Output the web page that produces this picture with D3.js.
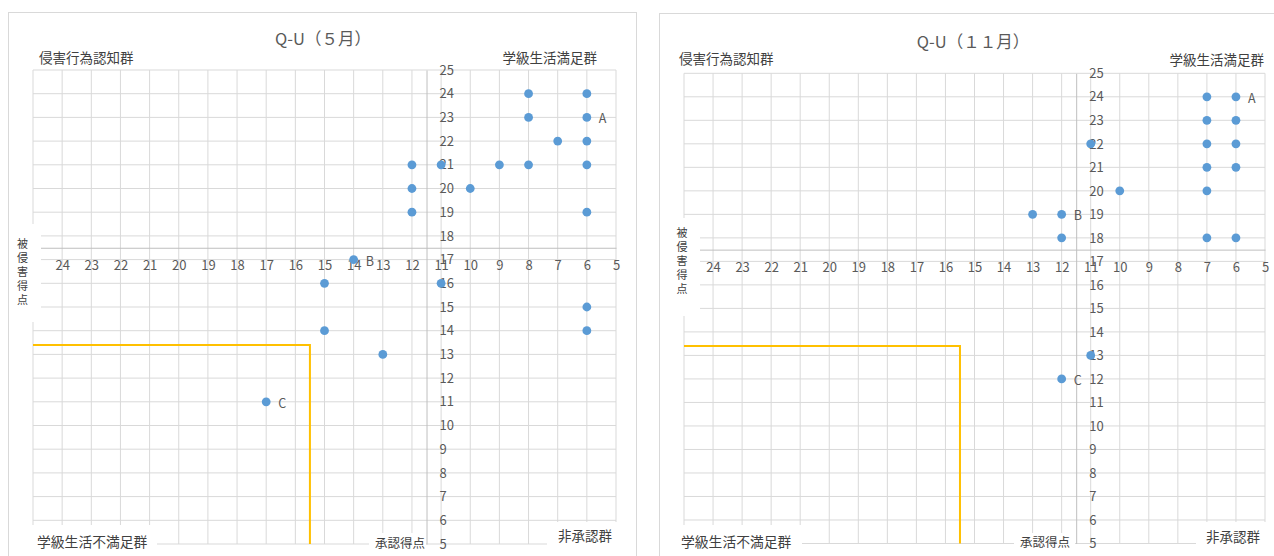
<!DOCTYPE html>
<html lang="ja">
<head>
<meta charset="utf-8">
<title>Q-U</title>
<script src="https://cdn.jsdelivr.net/npm/d3@7/dist/d3.min.js"></script>
<style>
  html, body { margin: 0; padding: 0; background: #ffffff; }
  svg { display: block; }
  text { font-family: "Noto Sans CJK JP", "Noto Sans", sans-serif; }
</style>
</head>
<body>
<svg id="chart" width="1274" height="556"></svg>
<script>
// ---- data -------------------------------------------------------------
// 承認得点 (x) / 被侵害得点 (y) for each student, May survey
const mayApproval = [8, 6, 8, 6, 7, 6, 12, 11, 9, 8, 6, 12, 10, 12, 6, 14, 15, 11, 6, 15, 6, 13, 17];
const mayVictim   = [24, 24, 23, 23, 22, 22, 21, 21, 21, 21, 21, 20, 20, 19, 19, 17, 16, 16, 15, 14, 14, 13, 11];
const mayTags     = ["", "", "", "A", "", "", "", "", "", "", "", "", "", "", "", "B", "", "", "", "", "", "", "C"];

// November survey
const novApproval = [7, 6, 7, 6, 11, 7, 6, 7, 6, 10, 7, 13, 12, 12, 7, 6, 11, 12];
const novVictim   = [24, 24, 23, 23, 22, 22, 22, 21, 21, 20, 20, 19, 19, 18, 18, 18, 13, 12];
const novTags     = ["", "A", "", "", "", "", "", "", "", "", "", "", "B", "", "", "", "", "C"];

// axis ticks and grid
const xTickValues = [24, 23, 22, 21, 20, 19, 18, 17, 16, 15, 14, 13, 12, 11, 10, 9, 8, 7, 6, 5];
const yTickValues = [5, 6, 7, 8, 9, 10, 11, 12, 13, 14, 15, 16, 17, 18, 19, 20, 21, 22, 23, 24, 25];
const xGridValues = [25, 24, 23, 22, 21, 20, 19, 18, 17, 16, 15, 14, 13, 12, 11, 10, 9, 8, 7, 6, 5];
const yGridValues = [5, 6, 7, 8, 9, 10, 11, 12, 13, 14, 15, 16, 17, 18, 19, 20, 21, 22, 23, 24, 25];
const xDomain = [25, 5];
const yDomain = [5, 25];

// where the two axes cross (quadrant boundaries)
const axisCrossX = 11.5;
const axisCrossY = 17.5;

// 要支援群 boundary (承認得点 15.5 / 被侵害得点 13.4)
const boundaryX = [25, 15.5, 15.5];
const boundaryY = [13.4, 13.4, 5];

// ---- layout -----------------------------------------------------------
const charts = [
  {
    title: "Q-U（５月）",
    approval: mayApproval, victim: mayVictim, tags: mayTags,
    panel: { x: 8.5, y: 12.5, w: 628, h: 600 },
    plot: { left: 33, right: 616, top: 70, bottom: 544 },
    titlePos: { x: 323, y: 45 },
    corners: [
      { text: "侵害行為認知群", x: 39, y: 58, anchor: "start", size: 13.5 },
      { text: "学級生活満足群", x: 597, y: 58, anchor: "end", size: 13.5 },
      { text: "学級生活不満足群", x: 37, y: 542, anchor: "start", size: 13.8, box: [28, 525, 129, 40] },
      { text: "承認得点", x: 375, y: 543, anchor: "start", size: 12.5, box: [369, 533, 57, 30] },
      { text: "非承認群", x: 558, y: 536, anchor: "start", size: 13.5, box: [547, 522, 80, 40] }
    ],
    yTitle: { x: 22.5, top: 238, box: [9, 224, 32, 98] }
  },
  {
    title: "Q-U（１１月）",
    approval: novApproval, victim: novVictim, tags: novTags,
    panel: { x: 659.5, y: 13.5, w: 700, h: 600 },
    plot: { left: 684, right: 1265, top: 73.3, bottom: 543.5 },
    titlePos: { x: 973, y: 48 },
    corners: [
      { text: "侵害行為認知群", x: 679, y: 59, anchor: "start", size: 13.5 },
      { text: "学級生活満足群", x: 1264, y: 60, anchor: "end", size: 13.5 },
      { text: "学級生活不満足群", x: 681, y: 542, anchor: "start", size: 13.8, box: [678, 525, 124, 40] },
      { text: "承認得点", x: 1020, y: 542, anchor: "start", size: 12.5, box: [1014, 533, 61, 30] },
      { text: "非承認群", x: 1206, y: 537.5, anchor: "start", size: 13.5, box: [1196, 522, 80, 40] }
    ],
    yTitle: { x: 682, top: 227, box: [661, 218, 39, 98] }
  }
];

const svg = d3.select("#chart");
const textColor = "#595959";
const gridColor = "#d9d9d9";
const axisColor = "#bfbfbf";

charts.forEach(c => {
  const g = svg.append("g");

  // chart area border
  g.append("rect")
    .attr("x", c.panel.x).attr("y", c.panel.y)
    .attr("width", c.panel.w).attr("height", c.panel.h)
    .attr("fill", "#ffffff").attr("stroke", gridColor).attr("stroke-width", 1);

  const x = d3.scaleLinear().domain(xDomain).range([c.plot.left, c.plot.right]);
  const y = d3.scaleLinear().domain(yDomain).range([c.plot.bottom, c.plot.top]);

  // gridlines
  g.append("g").selectAll("line").data(xGridValues).join("line")
    .attr("x1", d => x(d)).attr("x2", d => x(d))
    .attr("y1", c.plot.top).attr("y2", c.plot.bottom)
    .attr("stroke", gridColor).attr("stroke-width", 1);
  g.append("g").selectAll("line").data(yGridValues).join("line")
    .attr("x1", c.plot.left).attr("x2", c.plot.right)
    .attr("y1", d => y(d)).attr("y2", d => y(d))
    .attr("stroke", gridColor).attr("stroke-width", 1);

  // horizontal axis (承認得点), crossing at the quadrant boundary
  const xAxis = d3.axisBottom(x).tickValues(xTickValues).tickSize(0).tickSizeOuter(0).tickPadding(13);
  const gx = g.append("g").attr("transform", `translate(0,${y(axisCrossY)})`).call(xAxis);
  gx.select(".domain").attr("stroke", axisColor);
  gx.selectAll("text").attr("fill", textColor).style("font-size", "13px")
    .style("font-family", "'Noto Sans CJK JP', sans-serif");

  // vertical axis (被侵害得点)
  const yAxis = d3.axisRight(y).tickValues(yTickValues).tickSize(0).tickSizeOuter(0).tickPadding(13);
  const gy = g.append("g").attr("transform", `translate(${x(axisCrossX)},0)`).call(yAxis);
  gy.select(".domain").attr("stroke", axisColor);
  gy.selectAll("text").attr("fill", textColor).style("font-size", "13px")
    .style("font-family", "'Noto Sans CJK JP', sans-serif");

  // white backgrounds of the text boxes
  c.corners.filter(k => k.box).forEach(k => {
    g.append("rect").attr("x", k.box[0]).attr("y", k.box[1])
      .attr("width", k.box[2]).attr("height", k.box[3]).attr("fill", "#ffffff");
  });
  g.append("rect").attr("x", c.yTitle.box[0]).attr("y", c.yTitle.box[1])
    .attr("width", c.yTitle.box[2]).attr("height", c.yTitle.box[3]).attr("fill", "#ffffff");

  // boundary line
  const boundary = d3.line().x(d => x(d[0])).y(d => y(d[1]));
  g.append("path")
    .datum(boundaryX.map((v, i) => [v, boundaryY[i]]))
    .attr("d", boundary)
    .attr("fill", "none").attr("stroke", "#FFC000").attr("stroke-width", 2);

  // students
  const pts = c.approval.map((v, i) => ({ a: v, v: c.victim[i], tag: c.tags[i] }));
  g.append("g").selectAll("circle").data(pts).join("circle")
    .attr("cx", d => x(d.a)).attr("cy", d => y(d.v)).attr("r", 4.4)
    .attr("fill", "#5B9BD5");
  g.append("g").selectAll("text").data(pts.filter(d => d.tag)).join("text")
    .attr("x", d => x(d.a) + 12).attr("y", d => y(d.v) + 6)
    .attr("fill", textColor).style("font-size", "12.5px")
    .text(d => d.tag);

  // title
  g.append("text").attr("x", c.titlePos.x).attr("y", c.titlePos.y)
    .attr("text-anchor", "middle").attr("fill", textColor)
    .style("font-size", "16.5px").text(c.title);

  // quadrant labels
  c.corners.forEach(k => {
    g.append("text").attr("x", k.x).attr("y", k.y)
      .attr("dy", "0.36em")
      .attr("text-anchor", k.anchor).attr("fill", "#404040")
      .style("font-size", k.size + "px").text(k.text);
  });

  // vertical axis title, one character per line
  const chars = Array.from("被侵害得点");
  g.append("g").selectAll("text").data(chars).join("text")
    .attr("x", c.yTitle.x)
    .attr("y", (d, i) => c.yTitle.top + 9.5 + i * 14)
    .attr("text-anchor", "middle").attr("fill", "#404040")
    .style("font-size", "11px").text(d => d);
});
</script>
</body>
</html>
